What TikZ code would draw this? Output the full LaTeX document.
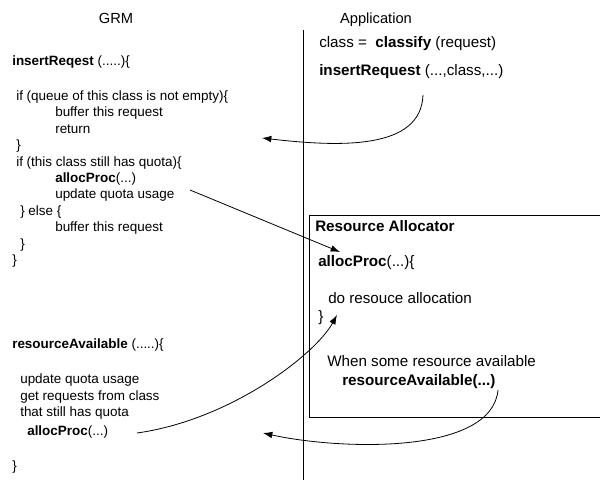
\documentclass[tikz,border=0pt]{standalone}
\usepackage{fontspec}
\setmainfont{Liberation Sans}
\usetikzlibrary{arrows.meta}
\begin{document}
\begin{tikzpicture}[x=0.75pt,y=-0.75pt,
  txt/.style={anchor=mid west,inner sep=0pt,font=\fontsize{10.1}{12}\selectfont},
  rtxt/.style={anchor=mid west,inner sep=0pt,font=\fontsize{11.4}{13}\selectfont},
  hdr/.style={anchor=mid,inner sep=0pt,font=\fontsize{11}{13}\selectfont},
  wire/.style={line width=0.6pt},
  call/.style={wire,-{Latex[length=7pt,width=5pt]}}]
\useasboundingbox (0,0) rectangle (600,479);

% column headers and the separating line
\node[hdr] (grm) at (116,20) {GRM};
\node[hdr] (app) at (376,20) {Application};
\draw[wire] (303,30) -- (303,482);

% GRM: insertReqest
\node[txt] (ins)  at (12,62)    {\textbf{insertReqest} (.....)\{};
\node[txt] (l1)   at (16,97)    {if (queue of this class is not empty)\{};
\node[txt] (l2)   at (55,113.4) {buffer this request};
\node[txt] (l3)   at (55,129.8) {return};
\node[txt] (l4)   at (16,146.2) {\}};
\node[txt] (l5)   at (16,162.6) {if (this class still has quota)\{};
\node[txt] (l6)   at (55,179)   {\textbf{allocProc}(...)};
\node[txt] (l7)   at (55,195.4) {update quota usage};
\node[txt] (l8)   at (20,211.8) {\} else \{};
\node[txt] (l9)   at (55,228.2) {buffer this request};
\node[txt] (l10)  at (20,244.6) {\}};
\node[txt] (l11)  at (12,261)   {\}};

% GRM: resourceAvailable
\node[txt] (ra)   at (12,345) {\textbf{resourceAvailable} (.....)\{};
\node[txt] (r1)   at (20,380) {update quota usage};
\node[txt] (r2)   at (20,397) {get requests from class};
\node[txt] (r3)   at (20,413) {that still has quota};
\node[txt] (r4)   at (27,432) {\textbf{allocProc}(...)};
\node[txt] (r5)   at (12,467) {\}};

% Application side
\node[rtxt] (cls)  at (319,44) {class = \ \textbf{classify} (request)};
\node[rtxt] (ireq) at (319,72) {\textbf{insertRequest} (...,class,...)};

% Resource Allocator box (runs off the right edge)
\draw[wire] (606,215) -- (309,215) -- (309,417) -- (606,417);
\node[rtxt] (rat)  at (315,228) {\textbf{Resource Allocator}};
\node[rtxt] (ap)   at (318,263) {\textbf{allocProc}(...)\{};
\node[rtxt] (da)   at (328,300) {do resouce allocation};
\node[rtxt] (apc)  at (318,318) {\}};
\node[rtxt] (ws)   at (327,363) {When some resource available};
\node[rtxt] (rav)  at (342,382) {\textbf{resourceAvailable(...)}};

% connector end points
\coordinate (c1s) at (423,95);
\coordinate (c1e) at (262,138);
\coordinate (c2s) at (190,190);
\coordinate (c2e) at (340,252);
\coordinate (c3s) at (137,433);
\coordinate (c3e) at (337,315);
\coordinate (c4s) at (498,390);
\coordinate (c4e) at (263,433);

\draw[call] (c1s) .. controls (421,150) and (340,147) .. (c1e);
\draw[call] (c2s) -- (c2e);
\draw[call] (c3s) .. controls (230,420) and (315,355) .. (c3e);
\draw[call] (c4s) .. controls (492,455) and (340,450) .. (c4e);
\end{tikzpicture}
\end{document}
